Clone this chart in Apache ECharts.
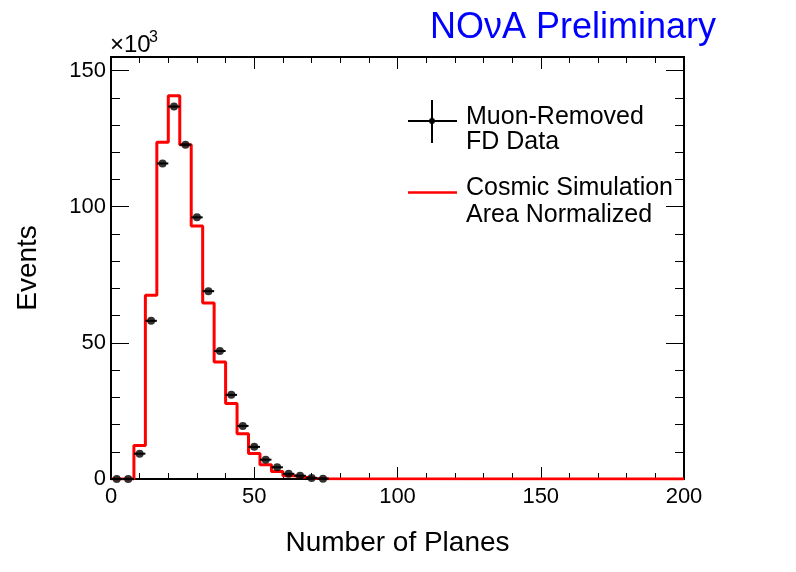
<!DOCTYPE html>
<html>
<head>
<meta charset="utf-8">
<script src="https://cdn.jsdelivr.net/npm/echarts@6/dist/echarts.min.js"></script>
<style>
  html, body { margin: 0; padding: 0; background: #fff; }
  #main { width: 796px; height: 572px; }
</style>
</head>
<body>
<div id="main"></div>
<script>
// data points (bin centres, events in units of 10^3)
var dataCenters = [2, 6, 10, 14, 18, 22, 26, 30, 34, 38, 42, 46, 50, 54, 58, 62, 66, 70, 74];
var dataValues = [0, 0, 9.3, 58.1, 115.9, 136.8, 122.8, 96.1, 69.0, 47.0, 30.9, 19.5, 11.8, 7.1, 4.3, 1.9, 1.2, 0.4, 0.1];
var binHalfWidth = 2;

// cosmic simulation histogram (lower bin edges, contents)
var simEdges = [0, 4, 8, 12, 16, 20, 24, 28, 32, 36, 40, 44, 48, 52, 56, 60, 64, 68, 72, 76];
var simValues = [0, 0, 12.3, 67.5, 123.7, 140.8, 122.8, 92.9, 64.6, 43.0, 27.7, 16.6, 9.4, 5.2, 2.8, 1.2, 0.6, 0.2, 0.1, 0];
var xMin = 0, xMax = 200;
var yMin = 0, yMax = 155;

var FONT = 'Liberation Sans, Arial, Helvetica, sans-serif';

var simData = [];
for (var i = 0; i < simEdges.length; i++) {
    simData.push([simEdges[i], simValues[i]]);
}
simData.push([xMax, 0]);

var pointData = [];
for (var j = 0; j < dataCenters.length; j++) {
    pointData.push([dataCenters[j], dataValues[j]]);
}

function xAxisDef(pos, showLabel) {
    return {
        type: 'value',
        position: pos,
        min: xMin,
        max: xMax,
        interval: 50,
        axisLine: { show: true, onZero: false, lineStyle: { color: '#000', width: 2 } },
        axisTick: { show: true, inside: true, length: 12, lineStyle: { color: '#000', width: 1 } },
        minorTick: { show: true, splitNumber: 5, length: 6, lineStyle: { color: '#000', width: 1 } },
        splitLine: { show: false },
        axisLabel: { show: showLabel, color: '#000', fontFamily: FONT, fontSize: 22, margin: 7 }
    };
}

function yAxisDef(pos, step, tickLen, showLabel) {
    return {
        type: 'value',
        position: pos,
        min: yMin,
        max: yMax,
        interval: step,
        axisLine: { show: true, onZero: false, lineStyle: { color: '#000', width: 2 } },
        axisTick: { show: true, inside: true, length: tickLen, lineStyle: { color: '#000', width: 1 } },
        splitLine: { show: false },
        axisLabel: { show: showLabel, showMaxLabel: false, color: '#000', fontFamily: FONT, fontSize: 22, margin: 5 }
    };
}

var xBottom = xAxisDef('bottom', true);
xBottom.name = 'Number of Planes';
xBottom.nameLocation = 'middle';
xBottom.nameGap = 50;
xBottom.nameTextStyle = { color: '#000', fontFamily: FONT, fontSize: 28 };

var yLeft = yAxisDef('left', 50, 18, true);
yLeft.name = 'Events';
yLeft.nameLocation = 'middle';
yLeft.nameGap = 69;
yLeft.nameTextStyle = { color: '#000', fontFamily: FONT, fontSize: 28 };

var myChart = echarts.init(document.getElementById('main'));

var option = {
    animation: false,
    backgroundColor: '#fff',
    grid: { left: 111, right: 112, top: 57, bottom: 93, containLabel: false, outerBoundsMode: 'none' },
    xAxis: [xBottom, xAxisDef('top', false)],
    yAxis: [
        yLeft,
        yAxisDef('left', 10, 9, false),
        yAxisDef('right', 50, 18, false),
        yAxisDef('right', 10, 9, false)
    ],
    series: [
        {
            name: 'Cosmic Simulation',
            type: 'line',
            step: 'end',
            xAxisIndex: 0,
            yAxisIndex: 0,
            data: simData,
            symbol: 'none',
            lineStyle: { color: '#ff0000', width: 3 },
            z: 2
        },
        {
            name: 'error bars',
            type: 'custom',
            xAxisIndex: 0,
            yAxisIndex: 0,
            data: pointData,
            renderItem: function (params, api) {
                var x = api.value(0), y = api.value(1);
                var p1 = api.coord([x - binHalfWidth, y]);
                var p2 = api.coord([x + binHalfWidth, y]);
                return {
                    type: 'line',
                    shape: { x1: p1[0], y1: p1[1], x2: p2[0], y2: p2[1] },
                    style: { stroke: '#000', lineWidth: 2 }
                };
            },
            z: 3
        },
        {
            name: 'Muon-Removed FD Data',
            type: 'scatter',
            xAxisIndex: 0,
            yAxisIndex: 0,
            data: pointData,
            symbol: 'circle',
            symbolSize: 8,
            itemStyle: { color: '#000' },
            z: 4
        }
    ],
    graphic: [
        { type: 'text', left: 430, top: 10, style: { text: 'NO\u03BDA Preliminary', fill: '#0000ff', font: '36px ' + FONT } },
        { type: 'text', x: 110, y: 45, style: { text: '\u00D710', fill: '#000', font: '24px ' + FONT, verticalAlign: 'middle' } },
        { type: 'text', x: 149, y: 38, style: { text: '3', fill: '#000', font: '16px ' + FONT, verticalAlign: 'middle' } },
        // legend: data marker
        { type: 'line', shape: { x1: 432, y1: 100, x2: 432, y2: 143 }, style: { stroke: '#000', lineWidth: 2 } },
        { type: 'line', shape: { x1: 408, y1: 121, x2: 457, y2: 121 }, style: { stroke: '#000', lineWidth: 2 } },
        { type: 'circle', shape: { cx: 432, cy: 121, r: 3 }, style: { fill: '#000' } },
        { type: 'text', x: 466, y: 117, style: { text: 'Muon-Removed', fill: '#000', font: '25px ' + FONT, verticalAlign: 'middle' } },
        { type: 'text', x: 466, y: 142, style: { text: 'FD Data', fill: '#000', font: '25px ' + FONT, verticalAlign: 'middle' } },
        // legend: simulation line
        { type: 'line', shape: { x1: 408, y1: 192.5, x2: 457, y2: 192.5 }, style: { stroke: '#ff0000', lineWidth: 2.5 } },
        { type: 'text', x: 466, y: 188, style: { text: 'Cosmic Simulation', fill: '#000', font: '25px ' + FONT, verticalAlign: 'middle' } },
        { type: 'text', x: 466, y: 215, style: { text: 'Area Normalized', fill: '#000', font: '25px ' + FONT, verticalAlign: 'middle' } }
    ]
};

myChart.setOption(option);
</script>
</body>
</html>
